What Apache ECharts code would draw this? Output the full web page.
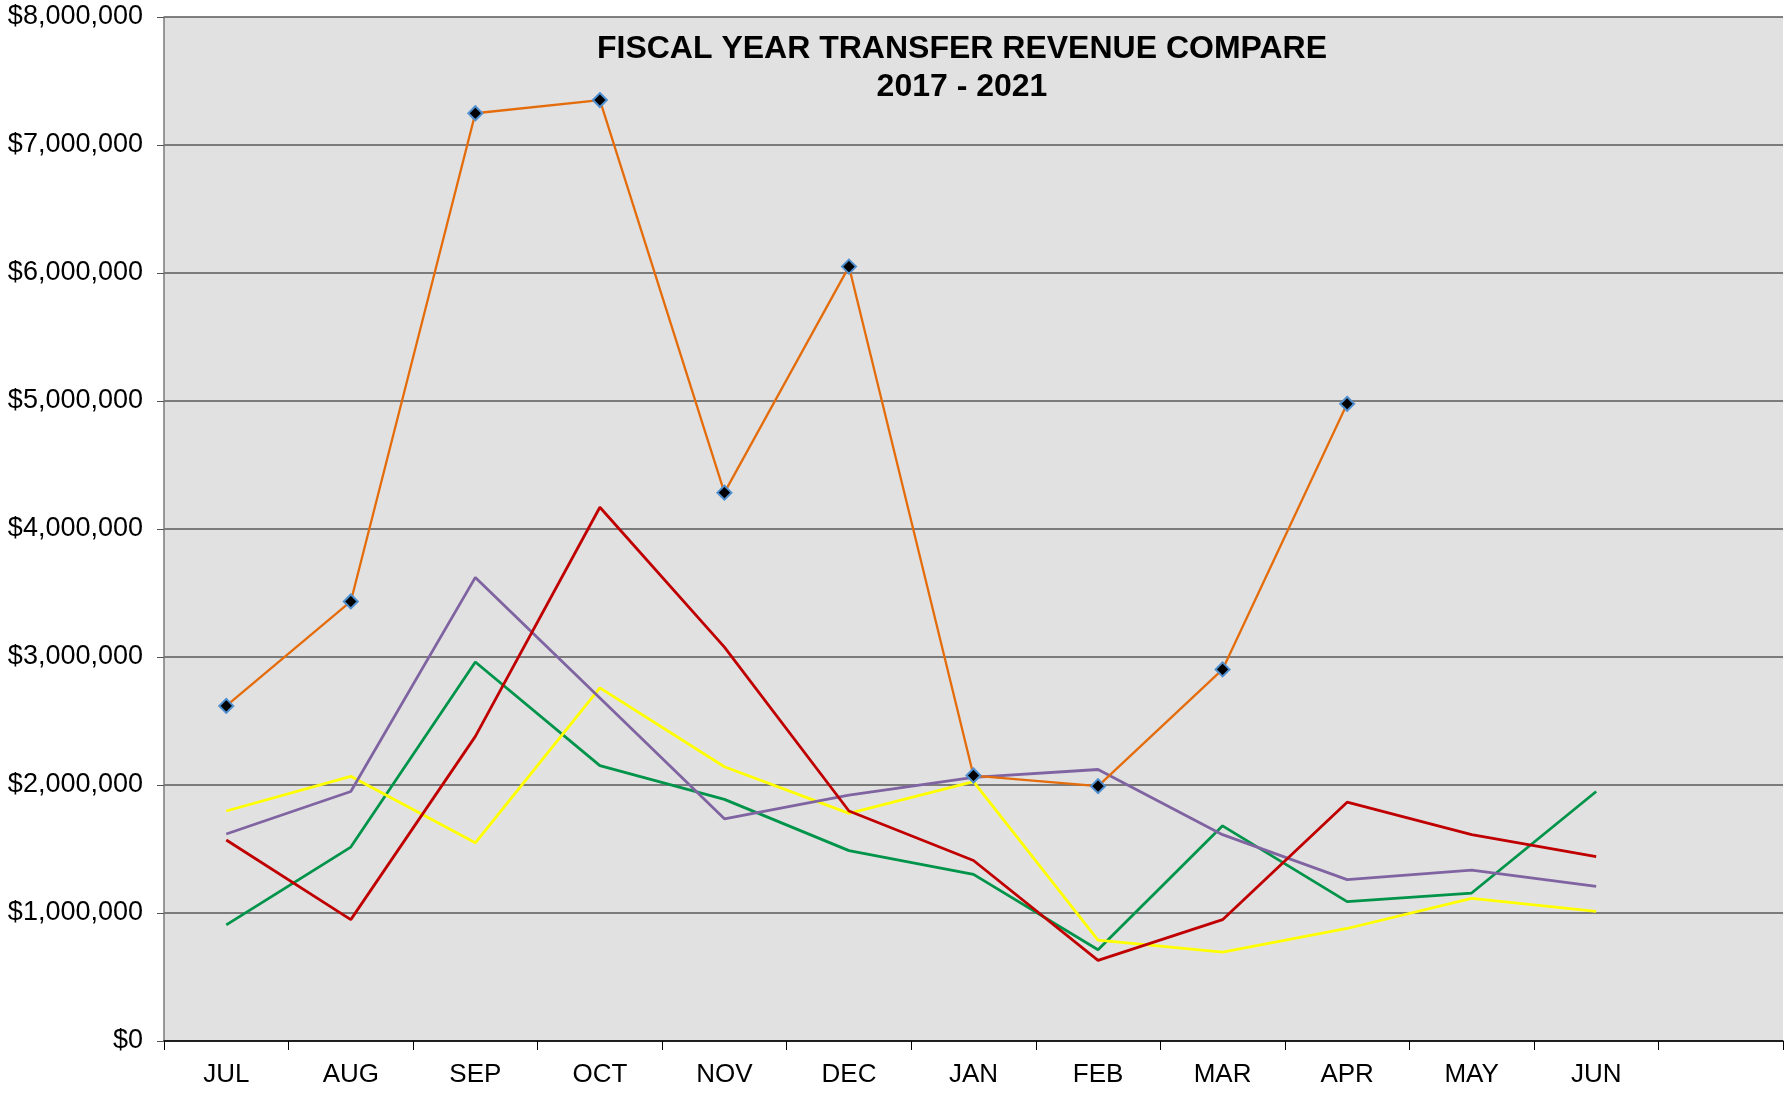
<!DOCTYPE html>
<html>
  <head>
    <meta charset="utf-8">
    <title>Fiscal Year Transfer Revenue Compare</title>
    <style>
      html, body { margin: 0; padding: 0; background: #fff; }
    </style>
  </head>
  <body>
    <div id="main" style="width: 1792px;height:1095px;"></div>
    <script src="https://cdn.jsdelivr.net/npm/echarts@6/dist/echarts.min.js"></script>
    <script type="text/javascript">

        // months of the fiscal year, last slot is left empty like the original sheet
        var months = ['JUL', 'AUG', 'SEP', 'OCT', 'NOV', 'DEC', 'JAN', 'FEB', 'MAR', 'APR', 'MAY', 'JUN', ''];
        var yTicks = [0, 1000000, 2000000, 3000000, 4000000, 5000000, 6000000, 7000000, 8000000];

        // values (dollars)
        var fyGreen  = [907000, 1515000, 2961000, 2151000, 1888000, 1487000, 1302000, 713000, 1681000, 1089000, 1156000, 1949000];
        var fyYellow = [1797000, 2068000, 1548000, 2759000, 2143000, 1778000, 2027000, 788000, 694000, 879000, 1114000, 1012000];
        var fyPurple = [1617000, 1949000, 3622000, 2680000, 1736000, 1921000, 2060000, 2121000, 1612000, 1261000, 1335000, 1208000];
        var fyRed    = [1570000, 948000, 2380000, 4170000, 3077000, 1797000, 1410000, 630000, 948000, 1866000, 1612000, 1440000];
        var fyOrange = [2618000, 3434000, 7248000, 7351000, 4284000, 6050000, 2074000, 1991000, 2903000, 4978000, null, null];

        var myChart = echarts.init(document.getElementById('main'));

        function money(v) {
          return '$' + String(v).replace(/\B(?=(\d{3})+(?!\d))/g, ',');
        }

        function plain(name, data, color) {
          return {
            name: name,
            type: 'line',
            data: data,
            symbol: 'none',
            lineStyle: { color: color, width: 2.8 },
            itemStyle: { color: color },
            animation: false
          };
        }

        var font = '"Liberation Sans", Arial, sans-serif';

        myChart.setOption({
            animation: false,
            title: {
                text: 'FISCAL YEAR TRANSFER REVENUE COMPARE\n2017 - 2021',
                left: 957,
                top: 25,
                textAlign: 'center',
                textStyle: {
                    fontFamily: font,
                    fontWeight: 'bold',
                    fontSize: 32,
                    lineHeight: 38,
                    color: '#000'
                }
            },
            grid: {
                left: 164,
                right: 9,
                top: 17,
                bottom: 54,
                show: true,
                backgroundColor: '#e1e1e1',
                borderWidth: 0
            },
            xAxis: {
                type: 'category',
                data: months,
                boundaryGap: true,
                axisLine: { lineStyle: { color: '#000', width: 1.5 } },
                axisTick: { show: true, inside: false, length: 9, lineStyle: { color: '#000', width: 1 } },
                axisLabel: {
                    margin: 21,
                    color: '#000',
                    fontFamily: font,
                    fontSize: 26
                },
                splitLine: { show: false }
            },
            yAxis: {
                type: 'value',
                min: yTicks[0],
                max: yTicks[yTicks.length - 1],
                interval: yTicks[1] - yTicks[0],
                axisLine: { show: true, lineStyle: { color: '#7a7a7a', width: 1.5 } },
                axisTick: { show: true, length: 7, lineStyle: { color: '#555' } },
                axisLabel: {
                    margin: 21,
                    color: '#000',
                    fontFamily: font,
                    fontSize: 27,
                    formatter: money
                },
                splitLine: { show: true, lineStyle: { color: '#595959', width: 1.5 } }
            },
            series: [
                plain('FY 2017', fyGreen, '#00944a'),
                plain('FY 2018', fyYellow, '#ffff00'),
                plain('FY 2019', fyPurple, '#8064a2'),
                plain('FY 2020', fyRed, '#c00000'),
                {
                    name: 'FY 2021',
                    type: 'line',
                    data: fyOrange,
                    symbol: 'diamond',
                    symbolSize: 14,
                    showSymbol: true,
                    lineStyle: { color: '#e46c0a', width: 2.3 },
                    itemStyle: { color: '#000', borderColor: '#4f8fd0', borderWidth: 2 },
                    animation: false
                }
            ]
        });
    </script>
  </body>
</html>
